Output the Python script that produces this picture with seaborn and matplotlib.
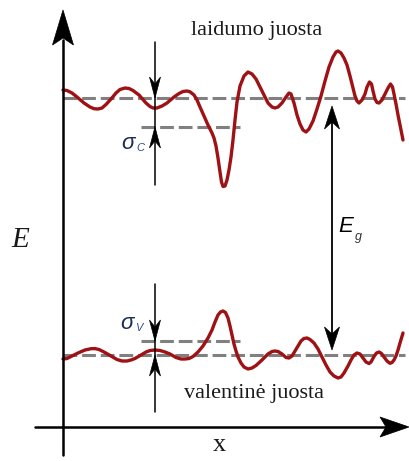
import numpy as np
import pandas as pd
import matplotlib
matplotlib.use("Agg")
import matplotlib.pyplot as plt
import matplotlib.patches as mpatches
import seaborn as sns

# ---- data (pixel-like coordinates, y grows downward) ----
cond_x = [63, 67, 72, 77, 84, 90, 94, 98, 102, 106, 111, 116, 120, 125, 129, 133, 139, 146, 150, 153,
          157, 162, 167, 174, 179, 183, 187, 190, 194, 197, 200, 204, 208, 212, 214, 216, 218, 220,
          221.5, 223, 225, 227, 229, 231, 233, 235, 237, 240, 244, 248, 252, 256, 260, 264, 268, 272,
          275, 278, 282, 286, 289, 291, 294, 297, 300, 303, 306, 309, 313, 317, 321, 325, 329, 333,
          336, 338, 341, 344, 347, 350, 353, 355, 357, 359, 362, 365, 367, 369.5, 371.5, 373, 375,
          377, 379, 382, 385, 388, 390.5, 392.5, 394, 396, 398, 400, 403]
cond_y = [90, 90.5, 93, 97, 103, 107, 108.7, 109, 108, 104.5, 99, 93, 89.5, 88, 88.5, 90.5, 95, 103, 106.5, 108,
          108, 106, 103, 97, 93.5, 91.5, 91, 91.8, 95, 100, 107, 116, 125, 133, 138, 146, 158, 172,
          182, 186.5, 186, 180, 170, 157, 140, 120, 102, 86, 76, 72, 74, 79, 87, 95, 103, 107,
          108, 107, 103, 97, 93, 94, 103, 115, 124, 130, 132, 129, 121, 109, 96, 81, 67, 57,
          52, 51, 53, 58, 65, 76, 88, 96, 101, 103, 100, 94, 87, 82, 84, 91, 99,
          102.5, 103, 100, 94, 88, 84, 87, 94, 104, 115, 125, 140]

val_x = [63, 67, 72, 78, 85, 91, 95, 99, 104, 111, 117, 122, 127, 131, 135, 141, 146, 150, 155, 160,
         165, 170, 176, 181, 185, 189, 193, 198, 203, 208, 212, 215, 218, 220.5, 223, 225.5, 228, 230,
         232, 234, 236, 238, 241, 244, 248, 252, 256, 262, 268, 272, 275, 278, 282, 286, 289, 292,
         295, 298, 301, 304, 307, 310, 314, 318, 322, 326, 330, 334, 338, 341, 344, 348, 351, 354,
         357, 360, 363, 366, 369, 371, 374, 376.5, 379, 381.5, 384, 387, 390, 392, 394, 396, 398,
         400, 403]
val_y = [359, 358.5, 356, 353, 350, 348.7, 348.6, 349.5, 352, 356, 359.5, 361, 361, 360, 358.5, 355, 352, 350.5, 350, 350.5,
         352, 354, 357.5, 359, 359, 358.5, 356.5, 352, 346, 338, 330, 322, 315, 312, 311, 312.5, 318, 326,
         335, 344, 351, 357, 363, 367, 369, 368, 365.5, 360, 354, 351.5, 351, 351.5, 354, 357.5, 358, 356,
         351, 346, 341, 338.5, 338, 339.5, 343, 349, 357, 365, 372, 376, 378, 377, 373, 366, 360, 355,
         353, 354, 358, 362, 363.5, 362, 356.5, 353, 352, 353.5, 357, 361, 363.3, 362.5, 360, 356, 350,
         343, 333]

# band levels (mean and mean - sigma)
ec_mean, ec_sigma = 98, 127
ev_mean, ev_sigma = 355, 341
mean_x = [63, 405]
sigma_x = [141, 240]

labels = {"cb": "laidumo juosta", "vb": "valentinė juosta", "E": "E", "x": "x"}

RED = "#9e1114"
GRAY = "#808080"
NAVY = "#1c2d52"

sns.set_style("white")
fig = plt.figure(figsize=(4.09, 4.61), dpi=100)
ax = fig.add_axes([0, 0, 1, 1])

def head(x, y, ux, uy, length, half, notch, color="black"):
    px, py = -uy, ux
    bx, by = x - length * ux, y - length * uy
    nx, ny = x - (length - notch) * ux, y - (length - notch) * uy
    poly = [(x, y), (bx + half * px, by + half * py), (nx, ny), (bx - half * px, by - half * py)]
    ax.add_patch(mpatches.Polygon(poly, closed=True, facecolor=color, edgecolor=color, lw=0.5, zorder=6))

# dashed mean lines
for lvl, xs in [(ec_mean, mean_x), (ec_sigma, sigma_x), (ev_mean, mean_x), (ev_sigma, sigma_x)]:
    df = pd.DataFrame({"x": xs, "y": [lvl, lvl]})
    l = sns.lineplot(data=df, x="x", y="y", ax=ax, estimator=None, sort=False, legend=False)
    l.lines[-1].set(color=GRAY, lw=2.2, dashes=(4.5, 1.6), zorder=2)

# band curves
for xs, ys in [(cond_x, cond_y), (val_x, val_y)]:
    df = pd.DataFrame({"x": xs, "y": ys})
    l = sns.lineplot(data=df, x="x", y="y", ax=ax, estimator=None, sort=False, legend=False)
    l.lines[-1].set(color=RED, lw=2.4, zorder=3, solid_joinstyle="round", solid_capstyle="round")

ax.set_xlim(0, 409)
ax.set_ylim(461, 0)
ax.axis("off")

# axes arrows
ax.plot([63, 63], [455, 40], color="black", lw=1.8, zorder=5)
head(63, 10, 0, -1, 35, 10.5, 7)
ax.plot([35, 390], [427, 427], color="black", lw=1.8, zorder=5)
head(409, 427, 1, 0, 29, 10, 6)

# sigma_c marker
ax.plot([155, 155], [42, 185], color="black", lw=1.1, zorder=5)
head(155, ec_mean, 0, 1, 21, 5.5, 7)
head(155, ec_sigma, 0, -1, 21, 5.5, 7)
# sigma_v marker
ax.plot([155, 155], [284, 412], color="black", lw=1.1, zorder=5)
head(155, ev_sigma, 0, 1, 21, 5.5, 7)
head(155, ev_mean, 0, -1, 21, 5.5, 7)
# Eg arrow
ax.plot([332, 332], [115, 342], color="black", lw=1.3, zorder=5)
head(332, ec_mean + 8, 0, -1, 23, 7.5, 7)
head(332, ev_mean - 5, 0, 1, 23, 7.5, 7)

# texts
serif = ["Liberation Serif", "DejaVu Serif"]
sans = ["Liberation Sans", "DejaVu Sans"]
ax.text(257, 31, labels["cb"], family=serif, fontsize=16, ha="center", va="center", color="#1a1a1a")
ax.text(254, 393, labels["vb"], family=serif, fontsize=16, ha="center", va="center", color="#1a1a1a")
ax.text(20, 240, labels["E"], family=serif, style="italic", fontsize=21, ha="center", va="center", color="#1a1a1a")
ax.text(219, 445, labels["x"], family=serif, fontsize=19, ha="center", va="center", color="#1a1a1a")
ax.text(346, 226, "E", family=sans, style="italic", fontsize=16, ha="center", va="center", color="black")
ax.text(358, 237, "g", family=sans, style="italic", fontsize=9, ha="center", va="center", color="#333333")
ax.text(128, 143, "σ", family=sans, style="italic", fontsize=16, ha="center", va="center", color=NAVY)
ax.text(140, 148, "C", family=sans, style="italic", fontsize=8, ha="center", va="center", color="#2d4a8a")
ax.text(127, 323, "σ", family=sans, style="italic", fontsize=16, ha="center", va="center", color=NAVY)
ax.text(139, 328, "V", family=sans, style="italic", fontsize=8, ha="center", va="center", color="#2d4a8a")

fig.savefig("out.png", dpi=100)
